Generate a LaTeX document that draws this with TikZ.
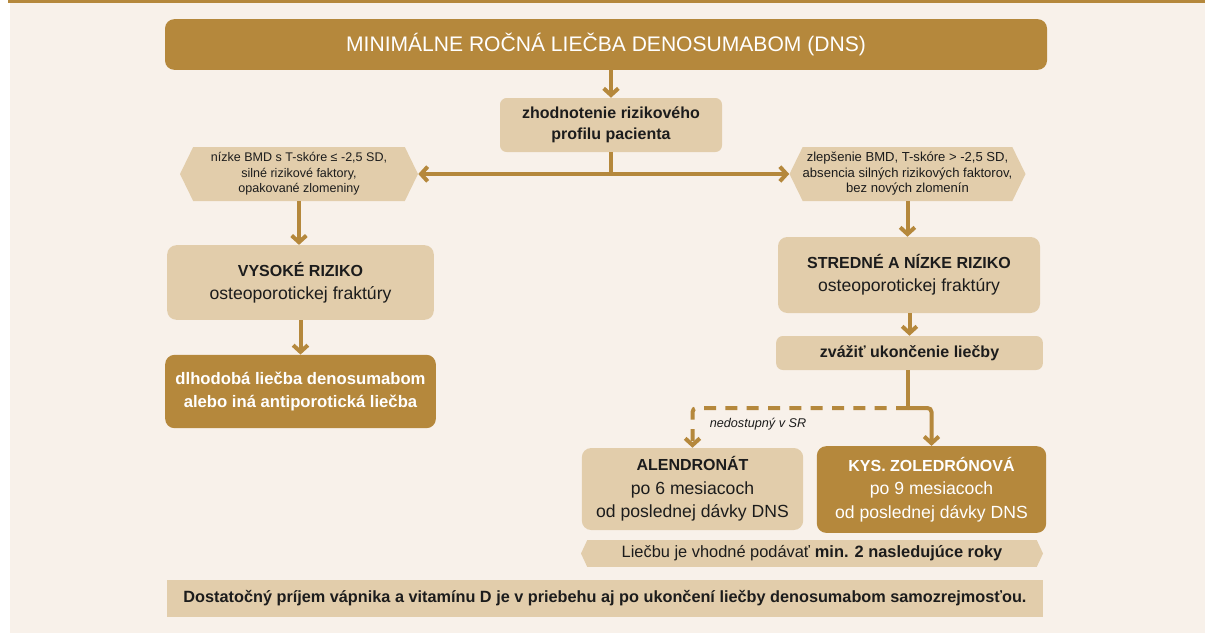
\documentclass[tikz,border=0pt]{standalone}
\usepackage{fontspec}
\setmainfont{Liberation Sans}
\usetikzlibrary{shapes.symbols,arrows.meta}
\definecolor{gold}{HTML}{B5883C}
\definecolor{sand}{HTML}{E2CDAB}
\definecolor{paper}{HTML}{F8F1EA}
\definecolor{ink}{HTML}{1C1C1C}
\tikzset{
  box/.style={rounded corners=7pt, align=center, text=ink, inner sep=0pt},
  lightbox/.style={box, fill=sand},
  darkbox/.style={box, fill=gold, text=white},
  hexbox/.style={signal, signal to=west and east, signal pointer angle=128, fill=sand, text=ink, align=center, inner sep=0pt},
  link/.style={gold, line width=3pt},
  tip/.tip={Straight Barb[length=5pt,width=11pt]},
  arr/.style={link, -tip},
}
\newcommand{\fs}[2]{\fontsize{#1}{#2}\selectfont}
\begin{document}
\begin{tikzpicture}[x=0.75pt,y=-0.75pt]
  \useasboundingbox (0,0) rectangle (1205,633);
  \fill[paper] (10,0) rectangle (1205,633); % sfondo
  \fill[gold] (8,0) rectangle (1205,2.5); % linea in alto

  \node[darkbox, minimum width=661.5pt, minimum height=38pt, font=\fs{15.8}{19}] (title) at (606,44.5) {MINIMÁLNE ROČNÁ LIEČBA DENOSUMABOM (DNS)};
  \node[lightbox, rounded corners=5pt, minimum width=166.5pt, minimum height=40.5pt, font=\bfseries\fs{12}{16}] (risk) at (611,125) {zhodnotenie rizikového\\profilu pacienta};

  \node[hexbox, minimum width=178.5pt, minimum height=40.5pt, font=\fs{9.4}{11.6}] (hexL) at (299,174) {nízke BMD s T-skóre ≤ -2,5 SD,\\silné rizikové faktory,\\opakované zlomeniny};
  \node[hexbox, minimum width=176pt, minimum height=40.5pt, font=\fs{9.8}{11.6}] (hexR) at (907.5,174) {zlepšenie BMD, T-skóre > -2,5 SD,\\absencia silných rizikových faktorov,\\bez nových zlomenín};

  \node[lightbox, minimum width=200pt, minimum height=56pt, font=\fs{13.2}{17.5}] (high) at (300.5,282.5) {\textbf{\fs{12}{17.5}VYSOKÉ RIZIKO}\\osteoporotickej fraktúry};
  \node[darkbox, minimum width=203pt, minimum height=55pt, font=\bfseries\fs{12.5}{17}] (long) at (300.5,391.5) {dlhodobá liečba denosumabom\\alebo iná antiporotická liečba};

  \node[lightbox, minimum width=196.5pt, minimum height=57pt, font=\fs{13.2}{17.5}] (mid) at (909,275) {\textbf{\fs{12}{17.5}STREDNÉ A NÍZKE RIZIKO}\\osteoporotickej fraktúry};
  \node[lightbox, rounded corners=5pt, minimum width=200pt, minimum height=25.5pt, font=\bfseries\fs{12}{15}] (stop) at (909.5,353) {zvážiť ukončenie liečby};

  \node[lightbox, minimum width=166pt, minimum height=61.5pt, font=\fs{13.2}{17.5}] (alen) at (692.5,489) {\textbf{\fs{12}{17.5}ALENDRONÁT}\\po 6 mesiacoch\\od poslednej dávky DNS};
  \node[darkbox, minimum width=172pt, minimum height=65pt, font=\fs{13.2}{17.5}] (kys) at (931.5,489.5) {\textbf{\fs{12}{17.5}KYS. ZOLEDRÓNOVÁ}\\po 9 mesiacoch\\od poslednej dávky DNS};

  \node[hexbox, signal pointer angle=130, minimum width=346.5pt, minimum height=20pt, font=\fs{12.3}{14}] (years) at (812,553.5) {Liečbu je vhodné podávať \textbf{min. 2 nasledujúce roky}};
  \node[lightbox, rounded corners=0pt, minimum width=657pt, minimum height=28pt, font=\bfseries\fs{12.2}{14}] (note) at (605,598.5) {Dostatočný príjem vápnika a vitamínu D je v priebehu aj po ukončení liečby denosumabom samozrejmosťou.};

  % frecce
  \draw[arr] (risk.north |- title.south) -- (risk.north);
  \draw[link] (risk.south) -- (risk.south |- hexL.east);
  \draw[link, tip-tip] (hexL.east) -- (hexR.west);
  \draw[arr] (hexL.south) -- (hexL.south |- high.north);
  \draw[arr] (high) -- (long);
  \draw[arr] (hexR.south) -- (hexR.south |- mid.north);
  \draw[arr] (mid.south -| stop.north) -- (stop.north);
  \coordinate (fork) at (908,408);
  \draw[link] (stop.south -| fork) -- (fork);
  \draw[arr, rounded corners=3pt] (fork) -| (kys.north);
  \draw[arr, rounded corners=3pt, dash pattern=on 9pt off 7pt] (fork) -| (alen.north);
  \node[text=ink, font=\itshape\fs{9.5}{12}] (na) at (758,424) {nedostupný v SR};
\end{tikzpicture}
\end{document}
